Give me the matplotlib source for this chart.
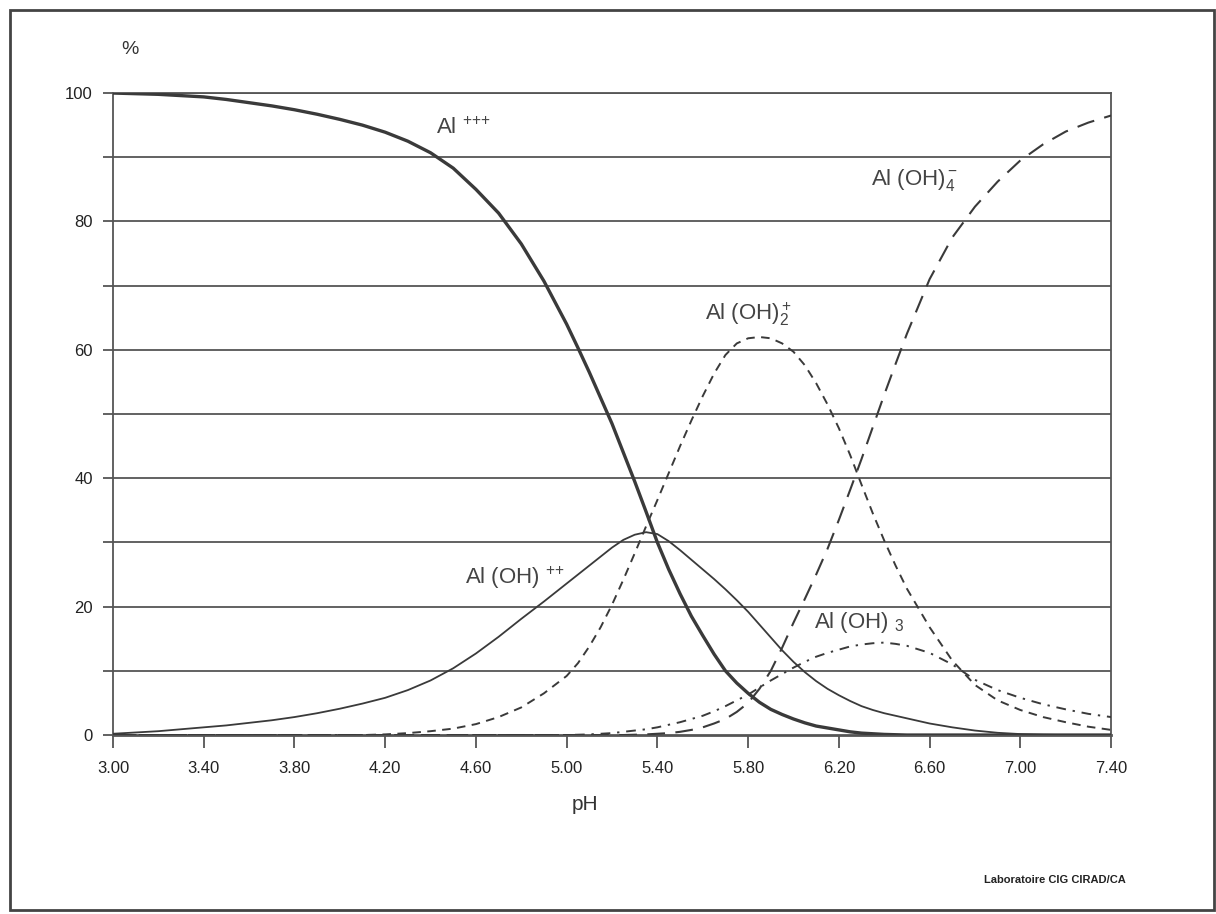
import matplotlib
matplotlib.use('Agg')
import matplotlib.pyplot as plt
from matplotlib.patches import Rectangle

# pH values where the curves were read (finer step around the peaks)
ph = [3.0, 3.1, 3.2, 3.3, 3.4, 3.5, 3.6, 3.7, 3.8, 3.9,
      4.0, 4.1, 4.2, 4.3, 4.4, 4.5, 4.6, 4.7, 4.8, 4.9,
      5.0, 5.05, 5.1, 5.15, 5.2, 5.25, 5.3, 5.35, 5.4, 5.45,
      5.5, 5.55, 5.6, 5.65, 5.7, 5.75, 5.8, 5.85, 5.9, 5.95,
      6.0, 6.05, 6.1, 6.15, 6.2, 6.25, 6.3, 6.35, 6.4, 6.45,
      6.5, 6.6, 6.7, 6.8, 6.9, 7.0, 7.1, 7.2, 7.3, 7.4]

# % of total Al for each species
al3 = [100, 99.9, 99.8, 99.6, 99.4, 99.0, 98.5, 98.0, 97.4, 96.7,
       95.9, 95.0, 93.9, 92.5, 90.7, 88.3, 85.0, 81.3, 76.5, 70.7,
       64.0, 60.3, 56.5, 52.5, 48.5, 44.0, 39.5, 34.8, 30.0, 25.8,
       22.0, 18.5, 15.5, 12.6, 10.0, 8.1, 6.5, 5.1, 4.0, 3.2,
       2.5, 1.9, 1.4, 1.1, 0.8, 0.5, 0.3, 0.2, 0.1, 0.05,
       0, 0, 0, 0, 0, 0, 0, 0, 0, 0]

al_oh = [0.2, 0.4, 0.6, 0.9, 1.2, 1.5, 1.9, 2.3, 2.8, 3.4,
         4.1, 4.9, 5.8, 7.0, 8.5, 10.4, 12.7, 15.3, 18.1, 20.8,
         23.6, 25.0, 26.4, 27.8, 29.2, 30.4, 31.2, 31.6, 31.3, 30.2,
         28.8, 27.3, 25.8, 24.3, 22.7, 21.0, 19.2, 17.2, 15.2, 13.2,
         11.4, 9.8, 8.4, 7.2, 6.2, 5.3, 4.5, 3.9, 3.4, 3.0,
         2.6, 1.8, 1.2, 0.7, 0.35, 0.15, 0.05, 0, 0, 0]

al_oh2 = [0, 0, 0, 0, 0, 0, 0, 0, 0, 0,
          0, 0, 0.1, 0.3, 0.6, 1.0, 1.7, 2.8, 4.3, 6.5,
          9.2, 11.2, 13.8, 16.8, 20.3, 24.2, 28.3, 32.5, 36.6, 40.8,
          45.0, 49.0, 52.8, 56.3, 59.2, 61.0, 61.8, 62.0, 61.8, 61.0,
          59.7, 57.6, 54.8, 51.5, 47.8, 43.6, 39.0, 34.5, 30.3, 26.4,
          22.8, 16.8, 11.6, 7.8, 5.4, 3.9, 2.8, 2.0, 1.3, 0.8]

al_oh3 = [0, 0, 0, 0, 0, 0, 0, 0, 0, 0,
          0, 0, 0, 0, 0, 0, 0, 0, 0, 0,
          0, 0.05, 0.1, 0.2, 0.3, 0.5, 0.7, 0.9, 1.2, 1.6,
          2.0, 2.5, 3.0, 3.7, 4.5, 5.4, 6.3, 7.4, 8.5, 9.5,
          10.5, 11.4, 12.2, 12.8, 13.3, 13.8, 14.1, 14.3, 14.4, 14.2,
          13.9, 12.8, 11.0, 8.6, 7.0, 5.8, 4.8, 4.0, 3.3, 2.8]

al_oh4 = [0, 0, 0, 0, 0, 0, 0, 0, 0, 0,
          0, 0, 0, 0, 0, 0, 0, 0, 0, 0,
          0, 0, 0, 0, 0, 0, 0.05, 0.1, 0.2, 0.3,
          0.5, 0.8, 1.2, 1.8, 2.5, 3.6, 5.0, 7.2, 10.0, 13.6,
          17.5, 21.2, 25.0, 29.0, 33.5, 38.2, 43.0, 48.0, 53.0, 57.8,
          62.5, 71.0, 77.5, 82.3, 86.2, 89.5, 92.0, 94.0, 95.4, 96.5]

x_ticks = [3.0, 3.4, 3.8, 4.2, 4.6, 5.0, 5.4, 5.8, 6.2, 6.6, 7.0, 7.4]
x_labels = ['3.00', '3.40', '3.80', '4.20', '4.60', '5.00', '5.40',
            '5.80', '6.20', '6.60', '7.00', '7.40']

plt.rcParams['font.family'] = ['Liberation Sans', 'DejaVu Sans']
plt.rcParams['mathtext.fontset'] = 'custom'
plt.rcParams['mathtext.rm'] = 'Liberation Sans'
plt.rcParams['mathtext.it'] = 'Liberation Sans'

ink = '#3a3a3a'

fig = plt.figure(figsize=(12.16, 9.14), dpi=100)
ax = fig.add_axes([0.0929, 0.1958, 0.8208, 0.7024])

# horizontal grid every 10 %
for g in range(10, 101, 10):
    ax.axhline(g, color='#555555', lw=1.3, zorder=1)

ax.plot(ph, al3, color=ink, lw=2.4, solid_capstyle='butt', zorder=3)
ax.plot(ph, al_oh, color=ink, lw=1.3, zorder=3)
ax.plot(ph, al_oh2, color=ink, lw=1.4, dashes=(4.4, 3.3), zorder=3)
ax.plot(ph, al_oh3, color=ink, lw=1.4, dashes=(5.0, 3.5, 1.2, 3.5), zorder=3)
ax.plot(ph, al_oh4, color=ink, lw=1.5, dashes=(8.5, 5.0), zorder=3)

ax.set_xlim(3.0, 7.4)
ax.set_ylim(0, 100)
ax.set_xticks(x_ticks)
ax.set_xticklabels(x_labels)
ax.set_yticks(range(0, 101, 10))
ax.set_yticklabels([str(v) if v % 20 == 0 else '' for v in range(0, 101, 10)])
ax.tick_params(axis='x', direction='out', length=9, width=1.3, color='#555555',
               pad=10, labelsize=12, labelcolor='#222222')
ax.tick_params(axis='y', direction='out', length=7.5, width=1.3, color='#555555',
               pad=7, labelsize=12, labelcolor='#222222')
for side in ['left', 'right', 'bottom', 'top']:
    ax.spines[side].set_color('#555555')
    ax.spines[side].set_linewidth(1.3)
ax.spines['bottom'].set_linewidth(2)

# species labels ({+} keeps mathtext from spacing the charges)
lab = dict(fontsize=16, color='#444444', va='center', ha='left')
ax.text(4.425, 94.5, r'Al $^{{+}{+}{+}}$', **lab)
ax.text(6.34, 86.5, r'Al (OH)$_4^{\,{-}}$', **lab)
ax.text(5.61, 65.5, r'Al (OH)$_2^{\,{+}}$', **lab)
ax.text(4.55, 24.5, r'Al (OH) $^{{+}{+}}$', **lab)
ax.text(6.09, 17.5, r'Al (OH) $_3$', **lab)

fig.text(130 / 1216, 1 - 50 / 914, '%', fontsize=14, color='#333333',
         ha='center', va='center')
fig.text(585 / 1216, 1 - 805 / 914, 'pH', fontsize=15, color='#333333',
         ha='center', va='center')
fig.text(1055 / 1216, 1 - 880 / 914, 'Laboratoire CIG CIRAD/CA', fontsize=8,
         color='#222222', ha='center', va='center', fontweight='bold')

# frame around the whole figure
fig.patches.append(Rectangle((10 / 1216, 4 / 914), 1204 / 1216, 900 / 914,
                             transform=fig.transFigure, fill=False,
                             edgecolor='#444444', lw=2))

fig.savefig('out.png', dpi=100)
